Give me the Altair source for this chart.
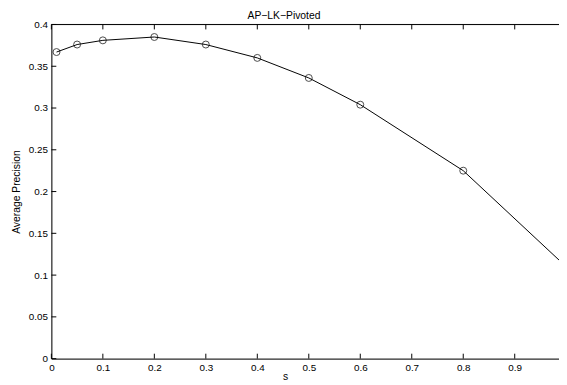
import altair as alt
import pandas as pd

# data
s_values = [0.01, 0.05, 0.1, 0.2, 0.3, 0.4, 0.5, 0.6, 0.8, 1.0]
ap_values = [0.367, 0.376, 0.381, 0.385, 0.376, 0.360, 0.336, 0.304, 0.225, 0.110]
x_ticks = [0, 0.1, 0.2, 0.3, 0.4, 0.5, 0.6, 0.7, 0.8, 0.9]
y_ticks = [0, 0.05, 0.1, 0.15, 0.2, 0.25, 0.3, 0.35, 0.4]
title_text = "AP\u2212LK\u2212Pivoted"

W, H = 515, 339
FONT = "Liberation Sans"

df = pd.DataFrame({"s": s_values, "ap": ap_values})
xt = pd.DataFrame({"t": x_ticks})
yt = pd.DataFrame({"t": y_ticks})
one = pd.DataFrame({"k": [0]})

xscale = alt.Scale(domain=[0, 0.986], nice=False, zero=False)
yscale = alt.Scale(domain=[0, 0.4], nice=False)

xaxis = alt.Axis(values=x_ticks, format="~g", ticks=False, grid=False,
                 domainColor="black", domainWidth=1, labelPadding=4,
                 labelFontSize=10, labelColor="black", labelFont=FONT,
                 labelFlush=False, labelOverlap=False,
                 title="s", titleFont=FONT, titleFontSize=10.5, titleFontWeight="normal",
                 titleColor="black", titleX=237, titleY=21, titleAlign="center",
                 titleBaseline="alphabetic")
yaxis = alt.Axis(values=y_ticks, format="~g", ticks=False, grid=False,
                 domainColor="black", domainWidth=1, labelPadding=4,
                 labelFontSize=10, labelColor="black", labelFont=FONT,
                 labelFlush=False, labelOverlap=False,
                 title="Average Precision", titleFont=FONT, titleFontSize=10.5,
                 titleFontWeight="normal", titleColor="black", titleX=-35,
                 titleY=H / 2, titleAlign="center", titleBaseline="middle", titleAngle=-90)

line = alt.Chart(df).mark_line(color="black", strokeWidth=1, clip=True).encode(
    x=alt.X("s:Q", scale=xscale, axis=xaxis),
    y=alt.Y("ap:Q", scale=yscale, axis=yaxis),
)
pts = alt.Chart(df).mark_point(shape="circle", filled=False, color="black",
                               size=50, strokeWidth=1, clip=True).encode(
    x=alt.X("s:Q", scale=xscale),
    y=alt.Y("ap:Q", scale=yscale),
)

top_line = alt.Chart(one).mark_rule(color="black", strokeWidth=1).encode(
    x=alt.value(0), x2=alt.value(W), y=alt.value(0))
xt_top = alt.Chart(xt).mark_rule(color="black", strokeWidth=1).encode(
    x=alt.X("t:Q", scale=xscale), y=alt.value(0), y2=alt.value(5))
xt_bot = alt.Chart(xt).mark_rule(color="black", strokeWidth=1).encode(
    x=alt.X("t:Q", scale=xscale), y=alt.value(H - 5), y2=alt.value(H))
yt_left = alt.Chart(yt).mark_rule(color="black", strokeWidth=1).encode(
    y=alt.Y("t:Q", scale=yscale), x=alt.value(0), x2=alt.value(5))

title = alt.Chart(one).mark_text(font=FONT, fontSize=10.5, color="black",
                                 align="center", baseline="alphabetic").encode(
    x=alt.value(236), y=alt.value(-6), text=alt.value(title_text))

chart = alt.layer(top_line, xt_top, xt_bot, yt_left, line, pts, title).properties(
    width=W, height=H,
    autosize=alt.AutoSizeParams(type="none"),
    padding={"left": 44, "top": 14, "right": 0, "bottom": 22},
).configure_view(stroke=None).configure(background="white")

chart.save("out.html", embed_options={"renderer": "svg", "actions": False})
